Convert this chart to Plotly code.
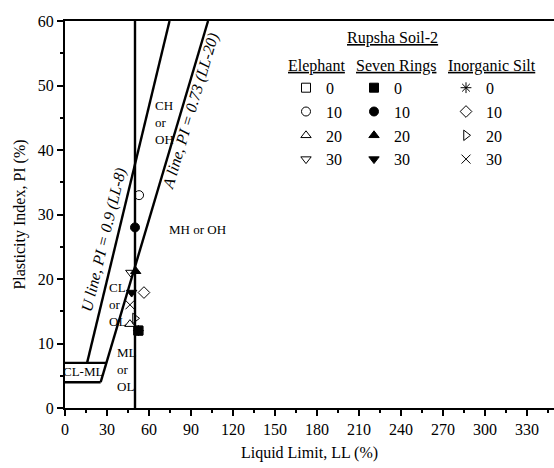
import numpy as np
import plotly.graph_objects as go

# Rupsha Soil-2 test results: liquid limit (LL, %) and plasticity index (PI, %)
additive_pct = ["0", "10", "20", "30"]

elephant_ll = [52.4, 52.9, 46.4, 47.0]
elephant_pi = [12.0, 33.0, 13.0, 21.0]

seven_rings_ll = [52.4, 50.0, 50.5, 47.6]
seven_rings_pi = [12.0, 28.0, 21.2, 17.9]

silt_ll = [52.4, 56.4, 50.0, 46.4]
silt_pi = [12.0, 17.9, 13.9, 16.0]

elephant_symbols = ["square-open", "circle-open", "triangle-up-open", "triangle-down-open"]
seven_rings_symbols = ["square", "circle", "triangle-up", "triangle-down"]
silt_symbols = ["asterisk-open", "diamond-open", "triangle-right-open", "x-thin-open"]

# Casagrande chart reference lines
pi_max = 60
ll_cutoff = 50
u_start_pi, a_start_pi = 7, 4

FONT = "Liberation Serif, Times New Roman, serif"
BLACK = "black"

# plot area in pixels
W, H = 554, 468
ML, MR, MT, MB = 65, 0, 21, 60
PW, PH = W - ML - MR, H - MT - MB

fig = go.Figure()

def add_line(x, y):
    fig.add_trace(go.Scatter(x=x, y=y, mode="lines", line=dict(color=BLACK, width=2.4),
                             showlegend=False, hoverinfo="skip"))

# U line: PI = 0.9 (LL - 8)
u_ll = [u_start_pi / 0.9 + 8, pi_max / 0.9 + 8]
add_line(u_ll, [u_start_pi, pi_max])
# A line: PI = 0.73 (LL - 20)
a_ll = [a_start_pi / 0.73 + 20, pi_max / 0.73 + 20]
add_line(a_ll, [a_start_pi, pi_max])
# CL-ML band
add_line([0, u_start_pi / 0.73 + 20], [u_start_pi, u_start_pi])
add_line([0, a_start_pi / 0.73 + 20], [a_start_pi, a_start_pi])
# LL = 50 divider
add_line([ll_cutoff, ll_cutoff], [0, pi_max])

def add_group(ll, pi, symbols, legend):
    for i, label in enumerate(additive_pct):
        fig.add_trace(go.Scatter(
            x=[ll[i]], y=[pi[i]], mode="markers", name=label, legend=legend,
            marker=dict(symbol=symbols[i], size=9, color=BLACK,
                        line=dict(color=BLACK, width=1)),
        ))

add_group(elephant_ll, elephant_pi, elephant_symbols, "legend")
add_group(silt_ll, silt_pi, silt_symbols, "legend3")
add_group(seven_rings_ll, seven_rings_pi, seven_rings_symbols, "legend2")

def legend_box(x_px, title):
    return dict(
        title=dict(text=f"<u>{title}</u>", side="top", font=dict(family=FONT, size=16, color=BLACK)),
        font=dict(family=FONT, size=16, color=BLACK),
        xref="paper", yref="paper",
        x=(x_px - ML) / PW, y=(MT + PH - 50) / PH, xanchor="left", yanchor="top",
        bgcolor="rgba(0,0,0,0)", borderwidth=0, itemclick=False,
    )

text_font = dict(family=FONT, size=13, color=BLACK)
label_font = dict(family=FONT, size=16, color=BLACK)

annotations = [
    dict(x=(392 - ML) / PW, y=(MT + PH - 38) / PH, xref="paper", yref="paper",
         xanchor="center", yanchor="middle",
         text="<u>Rupsha Soil-2</u>", showarrow=False, font=label_font),
    dict(x=62.9, y=44.2, text="CH<br>or<br>OH", showarrow=False, font=text_font,
         xanchor="left", align="left"),
    dict(x=94.3, y=27.6, text="MH or OH", showarrow=False, font=text_font),
    dict(x=30.0, y=16.0, text="CL<br>or<br>OL", showarrow=False, font=text_font,
         xanchor="left", align="left"),
    dict(x=35.7, y=5.9, text="ML<br>or<br>OL", showarrow=False, font=text_font,
         xanchor="left", align="left"),
    dict(x=12.9, y=5.6, text="CL-ML", showarrow=False, font=text_font),
    dict(x=27.9, y=26.0, text="<i>U line, PI = 0.9 (LL-8)</i>", showarrow=False,
         textangle=-76.4, font=label_font),
    dict(x=90.0, y=46.0, text="<i>A line, PI = 0.73 (LL-20)</i>", showarrow=False,
         textangle=-73.4, font=label_font),
]

axis_common = dict(
    showline=True, linecolor=BLACK, linewidth=2, showgrid=False, zeroline=False,
    ticks="outside", ticklen=6, tickwidth=2, tickcolor=BLACK,
    tickfont=dict(family=FONT, size=16, color=BLACK),
)

fig.update_layout(
    width=W, height=H,
    margin=dict(l=ML, r=MR, t=MT, b=MB, autoexpand=False),
    paper_bgcolor="white", plot_bgcolor="white",
    font=dict(family=FONT, size=16, color=BLACK),
    xaxis=dict(range=[0, 349.3], dtick=30, tick0=0, mirror=True, tickangle=0,
               minor=dict(dtick=15, ticks="outside", ticklen=3, tickwidth=1.5, tickcolor=BLACK),
               title=dict(text="Liquid Limit, LL (%)", font=dict(family=FONT, size=16), standoff=10),
               **axis_common),
    yaxis=dict(range=[0, 60], dtick=10, tick0=0,
               minor=dict(dtick=5, ticks="outside", ticklen=3, tickwidth=1.5, tickcolor=BLACK),
               title=dict(text="Plasticity Index, PI (%)", font=dict(family=FONT, size=16), standoff=8),
               **axis_common),
    legend=legend_box(286, "Elephant"),
    legend2=legend_box(354, "Seven Rings"),
    legend3=legend_box(446, "Inorganic Silt"),
    annotations=annotations,
)

fig.write_html("out.html")
